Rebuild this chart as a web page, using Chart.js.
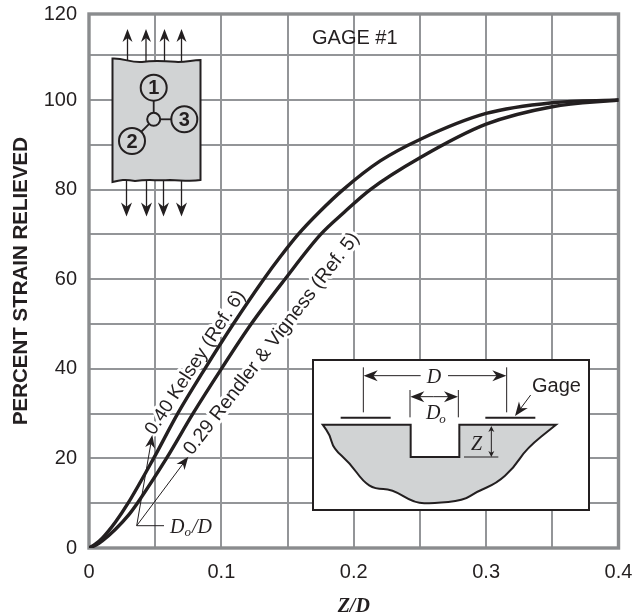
<!DOCTYPE html>
<html>
<head>
<meta charset="utf-8">
<title>Percent strain relieved</title>
<script src="https://cdn.jsdelivr.net/npm/chart.js@4/dist/chart.umd.min.js"></script>
<style>
  html, body { margin: 0; padding: 0; background: #fff; }
  canvas { display: block; }
</style>
</head>
<body>
<canvas id="myChart" width="639" height="616"></canvas>
<script>
// values
const kelseyZ = [0, 0.005, 0.01, 0.02, 0.0295, 0.0488, 0.067, 0.0875, 0.109, 0.132, 0.1445, 0.158, 0.174, 0.192, 0.22, 0.25, 0.3, 0.35, 0.4];
const kelseyStrain = [0, 0.9, 2.2, 5.8, 10, 20, 30, 40, 50, 60, 65, 70, 75, 80, 86.4, 91.2, 97, 99.4, 100];
const rendlerZ = [0, 0.005, 0.01, 0.02, 0.03, 0.0365, 0.0585, 0.0785, 0.1, 0.1225, 0.148, 0.175, 0.193, 0.2125, 0.25, 0.3, 0.35, 0.4];
const rendlerStrain = [0, 0.6, 1.6, 4.2, 7.4, 10, 20, 30, 40, 50, 60, 70, 75, 80, 87.1, 94.6, 98.5, 100];

const yTop = 119.2; // the top line of the frame, labelled 120
const xTicks = [0, 0.05, 0.1, 0.15, 0.2, 0.25, 0.3, 0.35, 0.4];
const xLabels = { 0: "0", 0.1: "0.1", 0.2: "0.2", 0.3: "0.3", 0.4: "0.4" };
const yTicks = [0, 10, 20, 30, 40, 50, 60, 70, 80, 90, 100, 110, yTop];
const yLabels = { 0: "0", 20: "20", 40: "40", 60: "60", 80: "80", 100: "100", [yTop]: "120" };

const INK = "#231f20";
const GRID = "#939598";
const FRAME = "#8a8c8e";
const SHADE = "#d1d3d4";
const SANS = '"Liberation Sans", Arial, sans-serif';
const SERIF = '"Liberation Serif", "Times New Roman", serif';

function line(c, x1, y1, x2, y2, w) {
  c.lineWidth = w || 1;
  c.beginPath();
  c.moveTo(x1, y1);
  c.lineTo(x2, y2);
  c.stroke();
}

// filled head with a notched back, tip at x2,y2
function arrow(c, x1, y1, x2, y2, w, len, half) {
  const a = Math.atan2(y2 - y1, x2 - x1);
  line(c, x1, y1, x2 - Math.cos(a) * len * 0.6, y2 - Math.sin(a) * len * 0.6, w);
  c.save();
  c.translate(x2, y2);
  c.rotate(a);
  c.beginPath();
  c.moveTo(0, 0);
  c.lineTo(-len, -half);
  c.lineTo(-len * 0.7, 0);
  c.lineTo(-len, half);
  c.closePath();
  c.fill();
  c.restore();
}

function haloText(c, text, x, y, angle, font) {
  c.save();
  c.translate(x, y);
  c.rotate(angle * Math.PI / 180);
  c.font = font;
  c.textAlign = "left";
  c.textBaseline = "alphabetic";
  c.strokeStyle = "#fff";
  c.lineWidth = 6;
  c.lineJoin = "round";
  c.strokeText(text, 0, 0);
  c.fillStyle = INK;
  c.fillText(text, 0, 0);
  c.restore();
}

function drawSpecimen(c) {
  c.strokeStyle = INK;
  c.fillStyle = INK;
  const xsUp = [127.5, 146, 164.5, 181.5];
  const xsDown = [126.5, 146.5, 163.5, 181.5];
  xsUp.forEach(x => arrow(c, x, 62, x, 29, 1.3, 13, 5));
  xsDown.forEach(x => arrow(c, x, 180, x, 216.5, 1.3, 14, 5.5));

  c.beginPath();
  c.moveTo(112.5, 58.5);
  c.bezierCurveTo(125, 58, 130, 63, 142, 62);
  c.bezierCurveTo(155, 60, 165, 61, 178, 62);
  c.bezierCurveTo(188, 62, 192, 60, 200.5, 60);
  c.lineTo(200.5, 180);
  c.bezierCurveTo(190, 182, 180, 180, 170, 180);
  c.bezierCurveTo(155, 181, 150, 179, 135, 181);
  c.bezierCurveTo(125, 179, 120, 180, 112.5, 182);
  c.closePath();
  c.fillStyle = SHADE;
  c.fill();
  c.lineWidth = 2;
  c.stroke();

  line(c, 153.7, 88, 153.7, 119, 1.8);
  line(c, 153.7, 119.3, 184, 119.3, 1.8);
  line(c, 153.7, 119.3, 132, 141, 1.8);
  const rings = [[153.7, 87.7, 13, "1"], [184.3, 119.3, 13, "3"], [132, 141, 13, "2"], [153.7, 119.3, 6.5, ""]];
  rings.forEach(r => {
    c.beginPath();
    c.arc(r[0], r[1], r[2], 0, Math.PI * 2);
    c.fillStyle = SHADE;
    c.fill();
    c.lineWidth = 2;
    c.stroke();
    if (r[3]) {
      c.fillStyle = INK;
      c.font = "bold 20px " + SANS;
      c.textAlign = "center";
      c.textBaseline = "middle";
      c.fillText(r[3], r[0], r[1] + 1);
    }
  });
}

function drawInset(c) {
  const zx = v => 300 + v / 3;
  const zy = v => 340 + v / 3;
  c.fillStyle = "#fff";
  c.strokeStyle = INK;
  c.lineWidth = 2;
  c.fillRect(313, 360, 276, 150);
  c.strokeRect(313, 360, 276, 150);

  // cut-away outline
  const outline = [[90, 285], [100, 325], [150, 370], [190, 425], [225, 447], [275, 447], [345, 490], [400, 490], [490, 482], [530, 455], [590, 430], [640, 385], [680, 325], [768, 254]];
  c.beginPath();
  c.moveTo(zx(68), zy(254));
  let px = 68, py = 254;
  outline.forEach(p => {
    c.quadraticCurveTo(zx(px), zy(py), zx((px + p[0]) / 2), zy((py + p[1]) / 2));
    px = p[0];
    py = p[1];
  });
  c.lineTo(zx(768), zy(254));
  c.lineTo(zx(478), zy(254));
  c.lineTo(zx(478), zy(351));
  c.lineTo(zx(332), zy(351));
  c.lineTo(zx(332), zy(254));
  c.closePath();
  c.fillStyle = SHADE;
  c.fill();
  c.lineWidth = 2;
  c.stroke();

  c.fillStyle = INK;
  line(c, zx(122), zy(233), zx(272), zy(233), 2);
  line(c, zx(556), zy(233), zx(706), zy(233), 2);
  line(c, zx(190), zy(82), zx(190), zy(217), 1);
  line(c, zx(620), zy(82), zx(620), zy(217), 1);
  arrow(c, zx(362), zy(107), zx(191), zy(107), 1, 14, 5.5);
  arrow(c, zx(444), zy(107), zx(619), zy(107), 1, 14, 5.5);
  line(c, zx(330), zy(150), zx(330), zy(232), 1);
  line(c, zx(475), zy(150), zx(475), zy(232), 1);
  arrow(c, zx(400), zy(170), zx(331), zy(170), 1, 14, 5.5);
  arrow(c, zx(400), zy(170), zx(474), zy(170), 1, 14, 5.5);
  line(c, zx(492), zy(351), zx(595), zy(351), 1);
  arrow(c, zx(574), zy(300), zx(574), zy(258), 1, 6, 3);
  arrow(c, zx(574), zy(300), zx(574), zy(351), 1, 6, 3);
  arrow(c, zx(692), zy(165), zx(645), zy(228), 1, 14, 5.5);

  c.textAlign = "left";
  c.textBaseline = "alphabetic";
  c.font = "20px " + SANS;
  c.fillText("Gage", zx(696), zy(155));
  c.font = "italic 20px " + SERIF;
  c.fillText("D", zx(380), zy(128));
  c.fillText("D", zx(378), zy(237));
  c.fillText("Z", zx(513), zy(330));
  c.font = "italic 13px " + SERIF;
  c.fillText("o", zx(418), zy(250));
}

function drawRatioNote(c) {
  c.strokeStyle = INK;
  c.fillStyle = INK;
  const ox = 136.7, oy = 525.7;
  arrow(c, ox, oy, 152.3, 435, 1, 13, 5);
  arrow(c, ox, oy, 188.3, 456.7, 1, 13, 5);
  line(c, ox, oy, 164, oy, 1);
  c.textAlign = "left";
  c.textBaseline = "alphabetic";
  c.font = "italic 20px " + SERIF;
  c.fillText("D", 170, 532.5);
  c.fillText("/D", 192, 532.5);
  c.font = "italic 13px " + SERIF;
  c.fillText("o", 184.5, 536);
}

const artPlugin = {
  id: "art",
  beforeDatasetsDraw(chart) {
    const c = chart.ctx;
    const a = chart.chartArea;
    c.save();
    c.strokeStyle = FRAME;
    c.lineWidth = 3.4;
    c.strokeRect(a.left, a.top, a.right - a.left, a.bottom - a.top);

    c.fillStyle = INK;
    c.font = "20px " + SANS;
    c.textAlign = "left";
    c.textBaseline = "alphabetic";
    c.fillText("GAGE #1", 312, 44);

    haloText(c, "0.40 Kelsey (Ref. 6)", 154, 436, -57, "19px " + SANS);
    haloText(c, "0.29 Rendler & Vigness (Ref. 5)", 192, 456, -52.4, "19.5px " + SANS);
    c.restore();
  },
  afterDatasetsDraw(chart) {
    const c = chart.ctx;
    c.save();
    drawRatioNote(c);
    drawSpecimen(c);
    drawInset(c);
    c.restore();
  },
};

const ctx = document.getElementById("myChart");

new Chart(ctx, {
  type: "line",
  plugins: [artPlugin],
  data: {
    datasets: [
      {
        label: "0.40 Kelsey (Ref. 6)",
        data: kelseyZ.map((z, i) => ({ x: z, y: kelseyStrain[i] })),
      },
      {
        label: "0.29 Rendler & Vigness (Ref. 5)",
        data: rendlerZ.map((z, i) => ({ x: z, y: rendlerStrain[i] })),
      },
    ],
  },
  options: {
    responsive: false,
    animation: false,
    layout: { padding: { top: 14, right: 20.5, left: 0, bottom: 0 } },
    elements: {
      point: { radius: 0 },
      line: { borderColor: INK, borderWidth: 3.4, cubicInterpolationMode: "monotone", fill: false, borderCapStyle: "round" },
    },
    plugins: {
      legend: { display: false },
      tooltip: { enabled: false },
    },
    scales: {
      x: {
        type: "linear",
        min: 0,
        max: 0.4,
        afterFit: (s) => { s.height = 68; s.paddingLeft = 0; s.paddingRight = 0; },
        afterBuildTicks: (s) => { s.ticks = xTicks.map((v) => ({ value: v })); },
        grid: { color: GRID, lineWidth: 2, tickLength: 0, drawTicks: false },
        border: { display: false },
        ticks: {
          color: INK,
          font: { family: SANS, size: 20 },
          padding: 12,
          maxRotation: 0,
          autoSkip: false,
          callback: (v) => xLabels[v] || "",
        },
        title: {
          display: true,
          text: "Z/D",
          color: INK,
          font: { family: SERIF, size: 20, style: "italic", weight: "bold", lineHeight: 1 },
          padding: { top: 0, bottom: -1 },
        },
      },
      y: {
        type: "linear",
        min: 0,
        max: yTop,
        afterFit: (s) => { s.width = 89; s.paddingTop = 0; s.paddingBottom = 0; },
        afterBuildTicks: (s) => { s.ticks = yTicks.map((v) => ({ value: v })); },
        grid: { color: GRID, lineWidth: 2, tickLength: 0, drawTicks: false },
        border: { display: false },
        ticks: {
          color: INK,
          font: { family: SANS, size: 20 },
          padding: 12,
          autoSkip: false,
          callback: (v) => (yLabels[v] !== undefined ? yLabels[v] : ""),
        },
        title: {
          display: true,
          text: "PERCENT STRAIN RELIEVED",
          color: INK,
          font: { family: SANS, size: 20.5, weight: "bold" },
          padding: { top: 9, bottom: 0 },
        },
      },
    },
  },
});
</script>
</body>
</html>
